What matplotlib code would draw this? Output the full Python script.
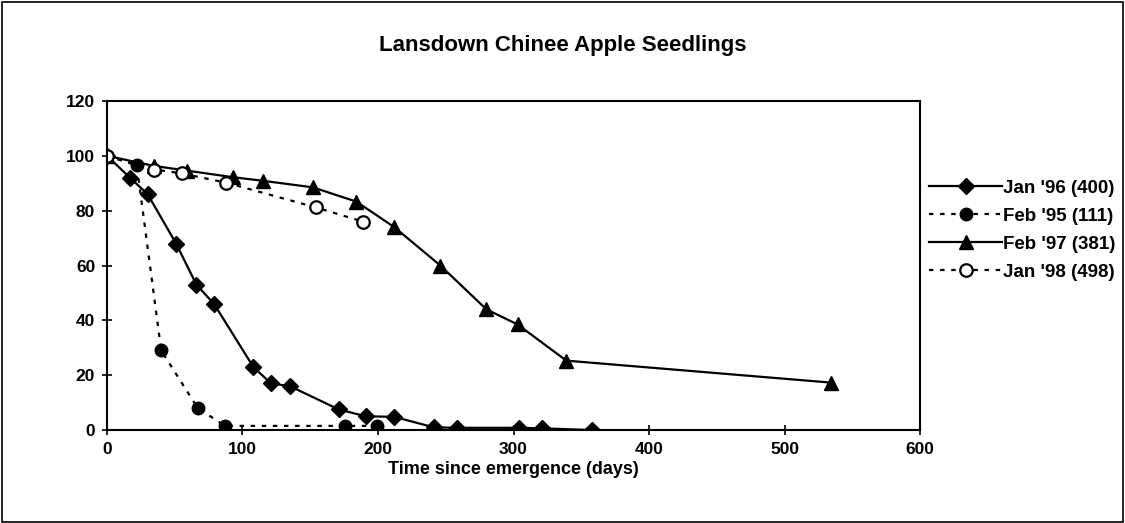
import matplotlib
matplotlib.use("Agg")
import matplotlib.pyplot as plt
from matplotlib.patches import Rectangle

plt.rcParams["font.family"] = ["Liberation Sans", "DejaVu Sans"]
plt.rcParams["font.weight"] = "bold"

TITLE = "Lansdown Chinee Apple Seedlings"
XLABEL = "Time since emergence (days)"

jan96_x = [0, 17, 30, 51, 66, 79, 108, 121, 135, 171, 191, 212, 241, 258, 304, 321, 358]
jan96_y = [100, 92, 86, 68, 53, 46, 23, 17, 16, 7.5, 5, 4.8, 1, 0.8, 0.8, 0.6, 0]

feb95_x = [0, 22, 40, 67, 87, 176, 199]
feb95_y = [100, 96.5, 29, 8, 1.5, 1.5, 1.5]

feb97_x = [0, 35, 59, 93, 115, 152, 184, 212, 246, 280, 303, 339, 534]
feb97_y = [100, 96.3, 94.6, 92.2, 90.9, 88.5, 83.3, 74, 60, 44, 38.5, 25.3, 17.3]

jan98_x = [0, 35, 55, 88, 154, 189]
jan98_y = [100, 95, 93.6, 90.2, 81.2, 76]

labels = ["Jan '96 (400)", "Feb '95 (111)", "Feb '97 (381)", "Jan '98 (498)"]

fig = plt.figure(figsize=(11.25, 5.23), dpi=100)
ax = fig.add_axes([0.0951, 0.1778, 0.7227, 0.6291])

dot = (0, (2, 3))
lw = 1.6
ax.plot(jan96_x, jan96_y, color="black", lw=lw, marker="D", ms=8.5, label=labels[0])
ax.plot(feb95_x, feb95_y, color="black", lw=lw, ls=dot, marker="o", ms=9, label=labels[1])
ax.plot(feb97_x, feb97_y, color="black", lw=lw, marker="^", ms=10, label=labels[2])
ax.plot(jan98_x, jan98_y, color="black", lw=lw, ls=dot, marker="o", ms=9,
        markerfacecolor="white", markeredgewidth=1.6, label=labels[3])

ax.set_xlim(0, 600)
ax.set_ylim(0, 120)
ax.set_xticks(range(0, 601, 100))
ax.set_yticks(range(0, 121, 20))
ax.tick_params(direction="inout", length=7, width=1.2, labelsize=12.5, pad=5)
for s in ax.spines.values():
    s.set_linewidth(1.5)
for lab in ax.get_xticklabels() + ax.get_yticklabels():
    lab.set_fontweight("bold")
ax.set_xlabel(XLABEL, fontsize=13, fontweight="bold", labelpad=3)

fig.text(0.5, 0.913, TITLE, ha="center", va="center", fontsize=16, fontweight="bold")

leg = fig.legend(loc="center left", bbox_to_anchor=(0.826, 0.56), frameon=False,
                 fontsize=13.5, handlelength=3.9, handletextpad=0.05,
                 labelspacing=0.58, numpoints=1, borderaxespad=0, borderpad=0)
for t in leg.get_texts():
    t.set_fontweight("bold")

fig.patches.append(Rectangle((0.002, 0.002), 0.996, 0.994, transform=fig.transFigure,
                             fill=False, edgecolor="black", lw=1.2))

fig.savefig("out.png", dpi=100)
